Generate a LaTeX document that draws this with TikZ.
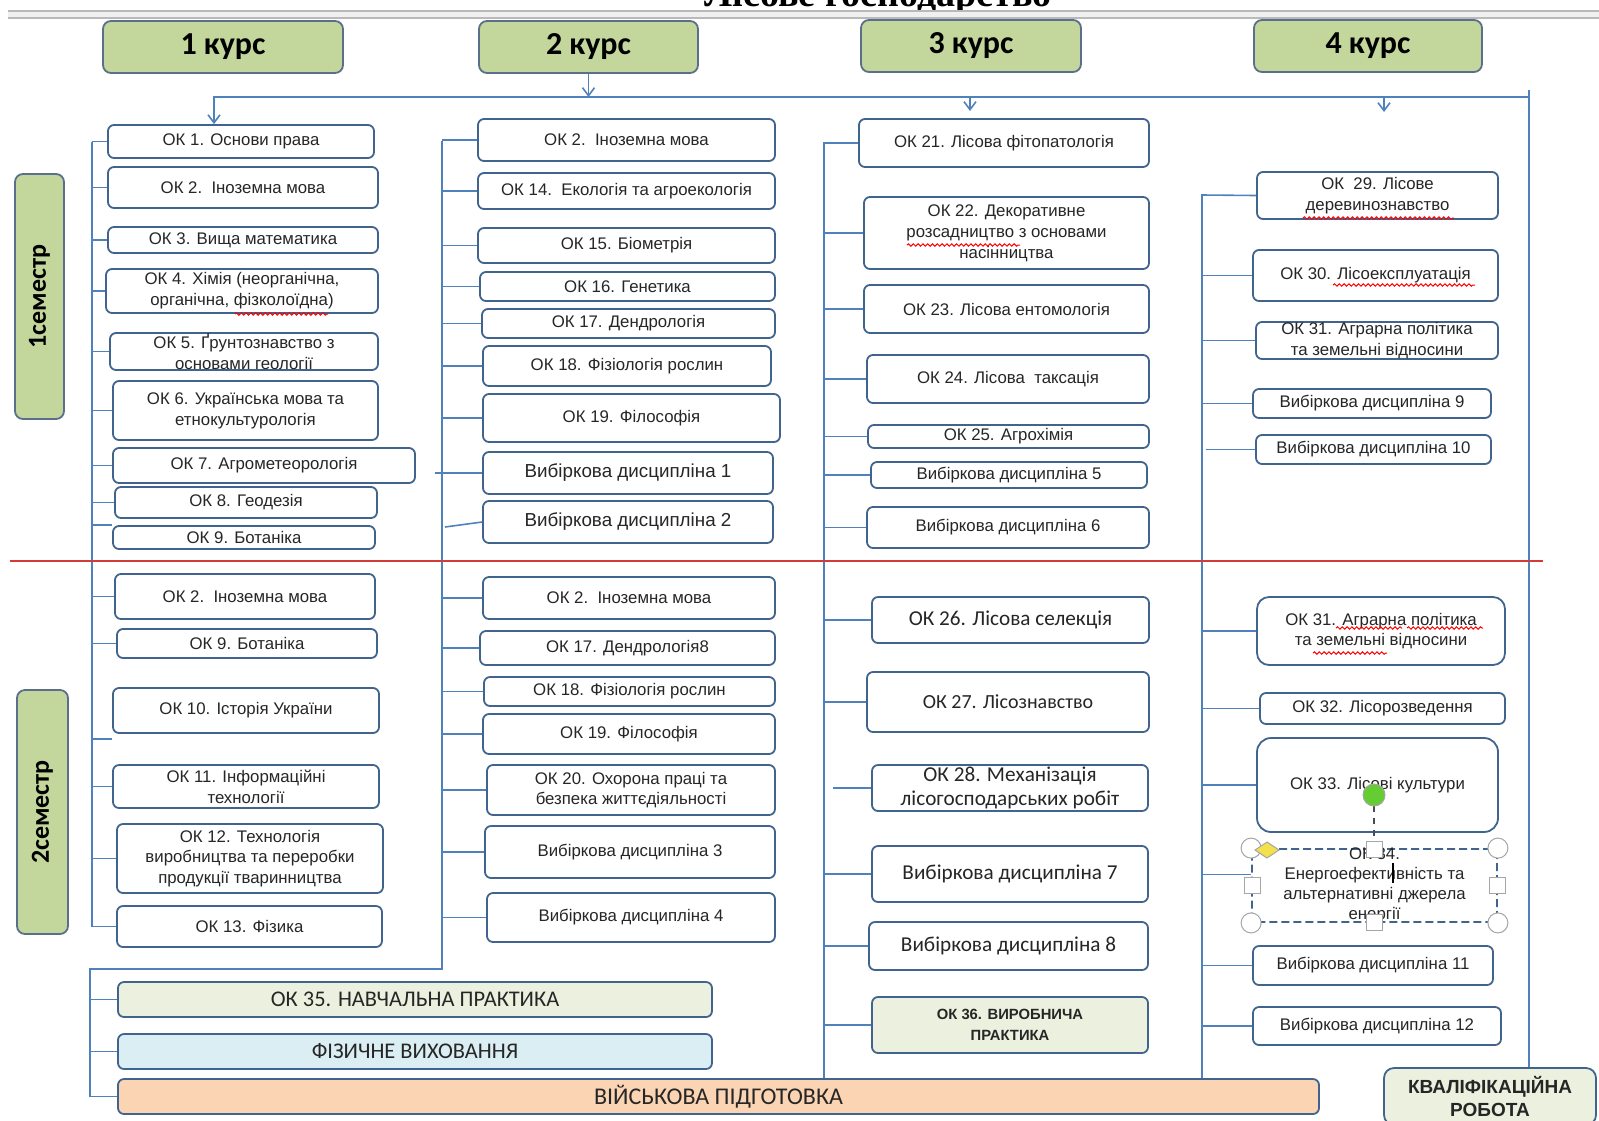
\documentclass[tikz,border=0pt]{standalone}
\usepackage{fontspec}
\setmainfont{Liberation Sans}
\newfontfamily\calfont{Carlito}
\newfontfamily\serfont{Liberation Serif}
\usetikzlibrary{fit,calc,arrows.meta,decorations.pathmorphing}

\definecolor{boxline}{HTML}{41648F}
\definecolor{linkline}{HTML}{4F81BD}
\definecolor{kursfill}{HTML}{C3D69B}
\definecolor{kursline}{HTML}{5B6F8C}
\definecolor{praktfill}{HTML}{EBF1DE}
\definecolor{fizfill}{HTML}{DAEEF3}
\definecolor{vijfill}{HTML}{FBD4B4}
\definecolor{semline}{HTML}{D33A3A}
\definecolor{handlegreen}{HTML}{66CC33}
\definecolor{handleyellow}{HTML}{F2E14C}

\begin{document}
\begin{tikzpicture}[x=0.5pt, y=-0.5pt,
	>={Straight Barb[length=4pt,width=6pt]},
	subj/.style={draw=boxline, line width=0.9pt, rounded corners=3pt, inner sep=0pt, fill=white},
	txt/.style={align=center, inner sep=0pt, text=black!85, font=\fontsize{8.4}{10.4}\selectfont},
	big/.style={font=\fontsize{9.4}{11}\selectfont},
	cal/.style={font=\calfont\fontsize{10.6}{12.4}\selectfont},
	kurs/.style={draw=kursline, line width=0.9pt, rounded corners=4pt, fill=kursfill, inner sep=0pt},
	kurstxt/.style={inner sep=0pt, font=\calfont\bfseries\fontsize{16}{18}\selectfont},
	semtxt/.style={rotate=90, inner sep=0pt, font=\calfont\bfseries\fontsize{13}{15}\selectfont},
	link/.style={linkline, line width=0.8pt},
	spell/.style={draw=red, line width=0.5pt, decorate, decoration={snake, amplitude=0.6pt, segment length=2.4pt}},
	handle/.style={draw=gray!70, fill=white, line width=0.5pt}
	]
	\useasboundingbox (0,0) rectangle (1599,1120);
	\clip (0,0) rectangle (1599,1120);
	
	% title and page rule
	\node[anchor=base, font=\serfont\bfseries\fontsize{19}{21}\selectfont] (title) at (878,6) {Лісове господарство};
	\fill[gray!12] (8,11) rectangle (1599,18);
	\draw[gray!55, line width=0.8pt] (8,11) -- (1599,11) (8,18) -- (1599,18);
	
	% courses and semesters
	\node[kurs, fit={(103,21)(343,73)}, label={[kurstxt]center:1 курс}] (k1) {};
	\node[kurs, fit={(479,21)(698,73)}, label={[kurstxt]center:2 курс}] (k2) {};
	\node[kurs, fit={(861,20)(1081,72)}, label={[kurstxt]center:3 курс}] (k3) {};
	\node[kurs, fit={(1254,20)(1482,72)}, label={[kurstxt]center:4 курс}] (k4) {};
	\node[kurs, fit={(15,174)(64,419)}, label={[semtxt]center:1семестр}] (s1) {};
	\node[kurs, fit={(17,690)(68,934)}, label={[semtxt]center:2семестр}] (s2) {};
	
	% 1 курс
	\node[subj, fit={(108,125)(374,158)}, label={[txt]center:{ОК 1. Основи права}}] (a1) {};
	\node[subj, fit={(108,167)(378,208)}, label={[txt]center:{ОК 2.\ \ Іноземна мова}}] (a2) {};
	\node[subj, fit={(108,227)(378,253)}, label={[txt]center:{ОК 3. Вища математика}}] (a3) {};
	\node[subj, fit={(106,269)(378,313)}, label={[txt]center:{ОК 4. Хімія (неорганічна,\\органічна, фізколоїдна)}}] (a4) {};
	\node[subj, fit={(110,333)(378,370)}, label={[txt]center:{ОК 5. Ґрунтознавство з\\основами геології}}] (a5) {};
	\node[subj, fit={(113,381)(378,440)}, label={[txt]center:{ОК 6. Українська мова та\\етнокультурологія}}] (a6) {};
	\node[subj, fit={(113,448)(415,483)}, label={[txt]center:{ОК 7. Агрометеорологія}}] (a7) {};
	\node[subj, fit={(115,487)(377,518)}, label={[txt]center:{ОК 8. Геодезія}}] (a8) {};
	\node[subj, fit={(113,526)(375,549)}, label={[txt]center:{ОК 9. Ботаніка}}] (a9) {};
	\node[subj, fit={(115,574)(375,619)}, label={[txt]center:{ОК 2.\ \ Іноземна мова}}] (b1) {};
	\node[subj, fit={(117,629)(377,658)}, label={[txt]center:{ОК 9. Ботаніка}}] (b2) {};
	\node[subj, fit={(113,688)(379,733)}, label={[txt]center:{ОК 10. Історія України}}] (b3) {};
	\node[subj, fit={(113,765)(379,808)}, label={[txt]center:{ОК 11. Інформаційні\\технології}}] (b4) {};
	\node[subj, fit={(117,824)(383,893)}, label={[txt]center:{ОК 12. Технологія\\виробництва та переробки\\продукції тваринництва}}] (b5) {};
	\node[subj, fit={(117,906)(382,947)}, label={[txt]center:{ОК 13. Фізика}}] (b6) {};
	
	% 2 курс
	\node[subj, fit={(478,119)(775,161)}, label={[txt]center:{ОК 2.\ \ Іноземна мова}}] (c1) {};
	\node[subj, fit={(478,173)(775,209)}, label={[txt]center:{ОК 14.\ \ Екологія та агроекологія}}] (c2) {};
	\node[subj, fit={(478,228)(775,263)}, label={[txt]center:{ОК 15. Біометрія}}] (c3) {};
	\node[subj, fit={(480,272)(775,301)}, label={[txt]center:{ОК 16. Генетика}}] (c4) {};
	\node[subj, fit={(482,309)(775,338)}, label={[txt]center:{ОК 17. Дендрологія}}] (c5) {};
	\node[subj, fit={(483,346)(771,386)}, label={[txt]center:{ОК 18. Фізіологія рослин}}] (c6) {};
	\node[subj, fit={(483,394)(780,442)}, label={[txt]center:{ОК 19. Філософія}}] (c7) {};
	\node[subj, fit={(483,452)(773,494)}, label={[txt,big]center:{Вибіркова дисципліна 1}}] (c8) {};
	\node[subj, fit={(483,501)(773,543)}, label={[txt,big]center:{Вибіркова дисципліна 2}}] (c9) {};
	\node[subj, fit={(483,577)(775,619)}, label={[txt]center:{ОК 2.\ \ Іноземна мова}}] (d1) {};
	\node[subj, fit={(480,631)(775,665)}, label={[txt]center:{ОК 17. Дендрологія8}}] (d2) {};
	\node[subj, fit={(484,677)(775,706)}, label={[txt]center:{ОК 18. Фізіологія рослин}}] (d3) {};
	\node[subj, fit={(483,714)(775,754)}, label={[txt]center:{ОК 19. Філософія}}] (d4) {};
	\node[subj, fit={(487,765)(775,815)}, label={[txt]center:{ОК 20. Охорона праці та\\безпека життєдіяльності}}] (d5) {};
	\node[subj, fit={(485,826)(775,878)}, label={[txt]center:{Вибіркова дисципліна 3}}] (d6) {};
	\node[subj, fit={(487,893)(775,942)}, label={[txt]center:{Вибіркова дисципліна 4}}] (d7) {};
	
	% 3 курс
	\node[subj, fit={(859,119)(1149,167)}, label={[txt]center:{ОК 21. Лісова фітопатологія}}] (e1) {};
	\node[subj, fit={(864,197)(1149,269)}, label={[txt]center:{ОК 22. Декоративне\\розсадництво з основами\\насінництва}}] (e2) {};
	\node[subj, fit={(864,285)(1149,333)}, label={[txt]center:{ОК 23. Лісова ентомологія}}] (e3) {};
	\node[subj, fit={(867,355)(1149,403)}, label={[txt]center:{ОК 24. Лісова\ \ таксація}}] (e4) {};
	\node[subj, fit={(868,425)(1149,448)}, label={[txt]center:{ОК 25. Агрохімія}}] (e5) {};
	\node[subj, fit={(871,462)(1147,488)}, label={[txt]center:{Вибіркова дисципліна 5}}] (e6) {};
	\node[subj, fit={(867,507)(1149,548)}, label={[txt]center:{Вибіркова дисципліна 6}}] (e7) {};
	\node[subj, fit={(872,597)(1149,643)}, label={[txt,cal]center:{ОК 26. Лісова селекція}}] (f1) {};
	\node[subj, fit={(867,672)(1149,732)}, label={[txt,font=\calfont\fontsize{10}{12}\selectfont]center:{ОК 27. Лісознавство}}] (f2) {};
	\node[subj, fit={(872,765)(1148,811)}, label={[txt,cal]center:{ОК 28. Механізація\\лісогосподарських робіт}}] (f3) {};
	\node[subj, fit={(872,846)(1148,902)}, label={[txt,cal]center:{Вибіркова дисципліна 7}}] (f4) {};
	\node[subj, fit={(869,922)(1148,970)}, label={[txt,cal]center:{Вибіркова дисципліна 8}}] (f5) {};
	\node[subj, fill=praktfill, fit={(872,997)(1148,1053)}, label={[txt,font=\bfseries\fontsize{7.4}{10.4}\selectfont]center:{ОК 36. ВИРОБНИЧА\\ПРАКТИКА}}] (f6) {};
	
	% 4 курс
	\node[subj, fit={(1257,172)(1498,219)}, label={[txt]center:{ОК\ \ 29. Лісове\\деревинознавство}}] (g1) {};
	\node[subj, fit={(1253,250)(1498,301)}, label={[txt]center:{ОК 30. Лісоексплуатація}}] (g2) {};
	\node[subj, fit={(1256,322)(1498,359)}, label={[txt]center:{ОК 31. Аграрна політика\\та земельні відносини}}] (g3) {};
	\node[subj, fit={(1253,389)(1491,418)}, label={[txt]center:{Вибіркова дисципліна 9}}] (g4) {};
	\node[subj, fit={(1256,435)(1491,464)}, label={[txt]center:{Вибіркова дисципліна 10}}] (g5) {};
	\node[subj, rounded corners=6pt, fit={(1257,597)(1505,665)}, label={[txt]center:{ОК 31. Аграрна політика\\та земельні відносини}}] (h1) {};
	\node[subj, fit={(1260,693)(1505,724)}, label={[txt]center:{ОК 32. Лісорозведення}}] (h2) {};
	\node[subj, rounded corners=7pt, fit={(1257,738)(1498,832)}, label={[txt]center:{ОК 33. Лісові культури}}] (h3) {};
	\node[subj, dash pattern=on 4pt off 2pt, fit={(1252,849)(1497,922)}, label={[txt,font=\fontsize{8.4}{10}\selectfont]center:{ОК 34.\\Енергоефективність та\\альтернативні джерела\\енергії}}] (h4) {};
	\node[subj, fit={(1253,946)(1493,985)}, label={[txt]center:{Вибіркова дисципліна 11}}] (h5) {};
	\node[subj, fit={(1253,1007)(1501,1045)}, label={[txt]center:{Вибіркова дисципліна 12}}] (h6) {};
	
	% practice, sport, military, thesis
	\node[subj, fill=praktfill, fit={(118,982)(712,1017)}, label={[txt,font=\calfont\fontsize{11.2}{13}\selectfont]center:{ОК 35. НАВЧАЛЬНА ПРАКТИКА}}] (ok35) {};
	\node[subj, fill=fizfill, fit={(118,1034)(712,1069)}, label={[txt,font=\calfont\fontsize{11.2}{13}\selectfont]center:{ФІЗИЧНЕ ВИХОВАННЯ}}] (fiz) {};
	\node[subj, fill=vijfill, fit={(118,1079)(1319,1114)}, label={[txt,font=\calfont\fontsize{12}{14}\selectfont]center:{ВІЙСЬКОВА ПІДГОТОВКА}}] (vij) {};
	\node[subj, fill=praktfill, rounded corners=5pt, fit={(1384,1068)(1596,1125)}, label={[txt,font=\bfseries\fontsize{9.5}{11.5}\selectfont]center:{КВАЛІФІКАЦІЙНА\\РОБОТА}}] (kval) {};
	
	% connectors
	\coordinate (t1) at (92,142);
	\coordinate (t1e) at (92,927);
	\coordinate (t2) at (442,141);
	\coordinate (t2e) at (442,969);
	\coordinate (lb) at (90,969);
	\coordinate (t3) at (824,142);
	\coordinate (t4) at (1202,195);
	\coordinate (rt) at (1529,90);
	\coordinate (hl) at (214,97);
	\coordinate (ar3) at (970,111);
	\coordinate (ar4) at (1384,112);
	
	\draw[link,->] (rt |- hl) -- (hl) -- (hl |- a1.north);
	\draw[link,->] (k2.south) -- (k2.south |- hl);
	\draw[link,->] (ar3 |- hl) -- (ar3);
	\draw[link,->] (ar4 |- hl) -- (ar4);
	\draw[link] (rt) -- (rt |- kval.north);
	
	\draw[link] (t1) -- (t1e);
	\draw[link] (t2) -- (t2e) -- (lb) -- (lb |- vij.west) -- (vij.west);
	\draw[link] (t3) -- (t3 |- vij.north);
	\draw[link] (g1.west) -- (t4) -- (t4 |- vij.north);
	
	\path[link]
	(t1 |- a1.west) edge (a1.west)
	(t1 |- a2.west) edge (a2.west)
	(t1 |- a3.west) edge (a3.west)
	(t1 |- a4.west) edge (a4.west)
	(t1 |- a5.west) edge (a5.west)
	(t1 |- a6.west) edge (a6.west)
	(t1 |- a7.west) edge (a7.west)
	(t1 |- a8.west) edge (a8.west)
	(t1 |- a9.north west) edge (a9.north west)
	(t1 |- b1.west) edge (b1.west)
	(t1 |- b2.west) edge (b2.west)
	($(t1 |- b3.south)+(0,5)$) edge ($(b3.south west)+(0,5)$)
	(t1 |- b4.west) edge (b4.west)
	(t1 |- b5.west) edge (b5.west)
	(t1 |- b6.west) edge (b6.west)
	;
	\path[link]
	(t2 |- c1.west) edge (c1.west)
	(t2 |- c2.west) edge (c2.west)
	(t2 |- c3.west) edge (c3.west)
	(t2 |- c4.west) edge (c4.west)
	(t2 |- c5.west) edge (c5.west)
	(t2 |- c6.west) edge (c6.west)
	(t2 |- c7.west) edge (c7.west)
	($(t2 |- c8.west)+(-7,0)$) edge (c8.west)
	($(t2 |- c9.west)+(3,5)$) edge (c9.west)
	(t2 |- d1.west) edge (d1.west)
	(t2 |- d2.west) edge (d2.west)
	(t2 |- d3.west) edge (d3.west)
	(t2 |- d4.west) edge (d4.west)
	(t2 |- d5.west) edge (d5.west)
	(t2 |- d6.west) edge (d6.west)
	(t2 |- d7.west) edge (d7.west)
	(lb |- ok35.west) edge (ok35.west)
	(lb |- fiz.west) edge (fiz.west)
	;
	\path[link]
	(t3 |- e1.west) edge (e1.west)
	(t3 |- e2.west) edge (e2.west)
	(t3 |- e3.west) edge (e3.west)
	(t3 |- e4.west) edge (e4.west)
	(t3 |- e5.west) edge (e5.west)
	(t3 |- e6.west) edge (e6.west)
	(t3 |- e7.west) edge (e7.west)
	(t3 |- f1.west) edge (f1.west)
	(t3 |- f2.west) edge (f2.west)
	($(t3 |- f3.west)+(9,0)$) edge (f3.west)
	(t3 |- f4.west) edge (f4.west)
	(t3 |- f5.west) edge (f5.west)
	(t3 |- f6.west) edge (f6.west)
	;
	\path[link]
	(t4 |- g2.west) edge (g2.west)
	(t4 |- g3.west) edge (g3.west)
	(t4 |- g4.west) edge (g4.west)
	($(t4 |- g5.west)+(4,0)$) edge (g5.west)
	(t4 |- h1.west) edge (h1.west)
	(t4 |- h2.west) edge (h2.west)
	(t4 |- h3.west) edge (h3.west)
	($(t4 |- h4.west)+(0,-11)$) edge ($(h4.west)+(0,-11)$)
	(t4 |- h5.west) edge (h5.west)
	(t4 |- h6.west) edge (h6.west)
	;
	
	% semester border
	\draw[semline, line width=1pt] (10,561) -- (1543,561);
	
	% spelling marks
	\draw[spell] (235,314) -- (328,314);
	\draw[spell] (907,245) -- (1020,245);
	\draw[spell] (1303,218) -- (1454,218);
	\draw[spell] (1333,285) -- (1475,285);
	\draw[spell] (1336,628) -- (1402,628);
	\draw[spell] (1407,628) -- (1483,628);
	\draw[spell] (1313,653) -- (1387,653);
	
	% selection handles on ОК 34
	\draw[black!70, dashed, line width=0.6pt] (1374,806) -- (1374,841);
	\draw[handle, fill=handlegreen] (1374,795) circle (5.5pt);
	\draw[handle] (h4.north west) circle (5pt);
	\draw[handle] (h4.north east) circle (5pt);
	\draw[handle] (h4.south west) circle (5pt);
	\draw[handle] (h4.south east) circle (5pt);
	\draw[handle] (1366,841) rectangle (1382,857);
	\draw[handle] (1366,914) rectangle (1382,930);
	\draw[handle] (1244,877) rectangle (1260,893);
	\draw[handle] (1489,877) rectangle (1505,893);
	\draw[handle, fill=handleyellow] (1255,850) -- (1267,842) -- (1279,850) -- (1267,858) -- cycle;
	\draw[black, line width=0.6pt] (1393,863) -- (1393,883);
\end{tikzpicture}
\end{document}
